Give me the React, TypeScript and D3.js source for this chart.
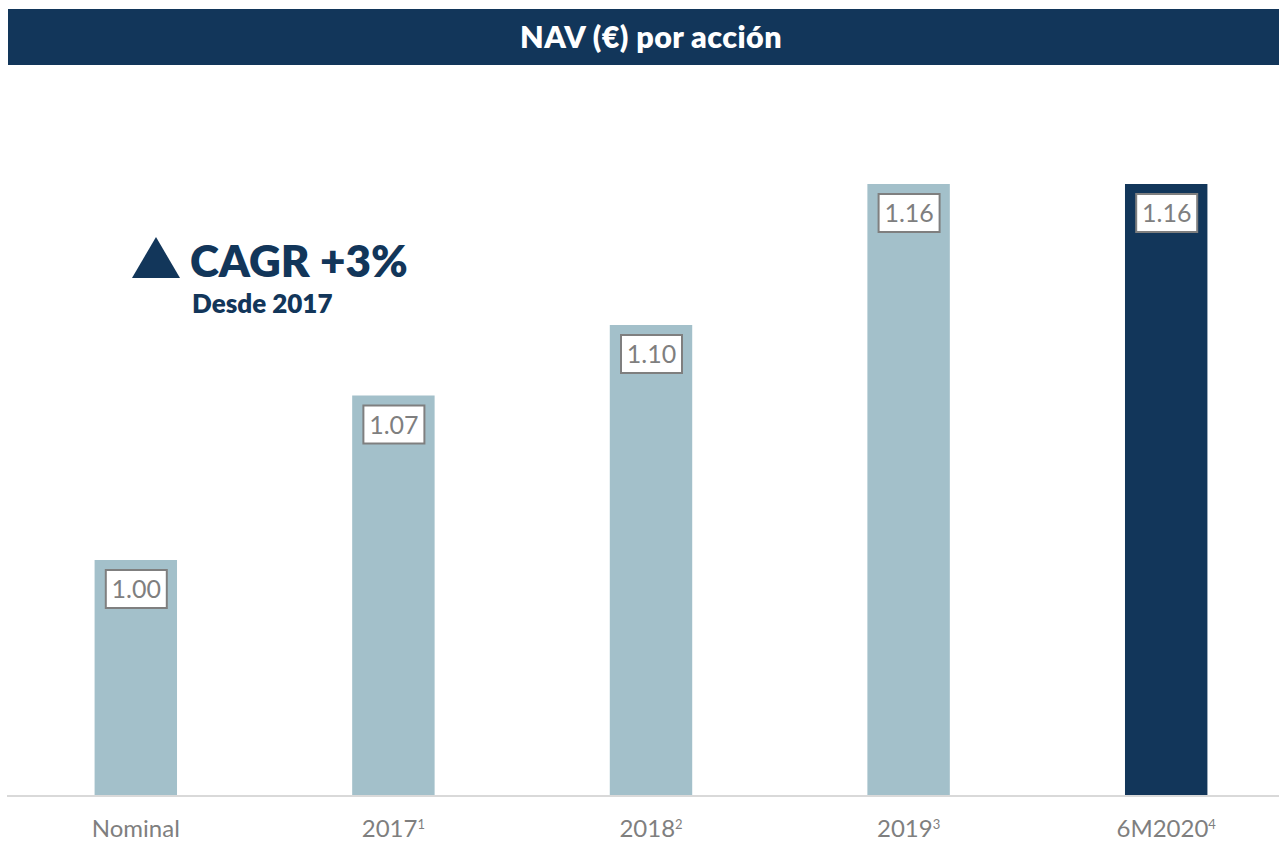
import React from "react";
import * as d3 from "d3";

const categories = ["Nominal", "2017", "2018", "2019", "6M2020"];
const superscripts = ["", "1", "2", "3", "4"];
const values = [1.0, 1.07, 1.1, 1.16, 1.16];
const labels = ["1.00", "1.07", "1.10", "1.16", "1.16"];
const highlight = [false, false, false, false, true];

const NAVY = "#12365a";
const LIGHT = "#a3c0ca";
const GREY = "#7f7f7f";
const FONT = "Lato, 'Open Sans', sans-serif";

export default function App() {
  const W = 1279, H = 841;
  const x = d3.scaleBand<string>().domain(categories).range([7, 1295]).paddingInner(0.68).paddingOuter(0.34);
  const y = d3.scaleLinear().domain([0.9, 1.2]).range([795, 90]);
  const base = y(0.9);
  return (
    <svg width={W} height={H} style={{ position: "absolute", left: 0, top: 0 }}>
      <rect x={0} y={0} width={W} height={H} fill="#fff" />
      <rect x={8} y={9} width={1271} height={56} fill={NAVY} />
      <text x={651} y={48} fill="#fff" fontFamily={FONT} fontWeight={800} fontSize={30.5} textAnchor="middle" letterSpacing={0.4}>
        NAV (€) por acción
      </text>
      {categories.map((c, i) => {
        const bx = x(c)!;
        const bw = x.bandwidth();
        const top = y(values[i]);
        const cx = bx + bw / 2;
        return (
          <g key={c}>
            <rect x={bx} y={top} width={bw} height={base - top} fill={highlight[i] ? NAVY : LIGHT} />
            <rect x={cx - 30} y={top + 10} width={61} height={38} fill="#fff" stroke={GREY} strokeWidth={2} />
            <text x={cx + 0.5} y={top + 38} fill={GREY} fontFamily={FONT} fontWeight={400} fontSize={25} textAnchor="middle">
              {labels[i]}
            </text>
            <text x={cx} y={837} fill={GREY} fontFamily={FONT} fontWeight={400} fontSize={24} textAnchor="middle">
              {c}
              {superscripts[i] && (
                <tspan fontSize={13} dy={-8}>{superscripts[i]}</tspan>
              )}
            </text>
          </g>
        );
      })}
      <line x1={7} x2={1279} y1={base + 1} y2={base + 1} stroke="#d9d9d9" strokeWidth={2} />
      <path d="M132,278 L156,237 L180,278 Z" fill={NAVY} />
      <text x={190} y={277} fill={NAVY} fontFamily={FONT} fontWeight={800} fontSize={44}>CAGR +3%</text>
      <text x={192} y={313} fill={NAVY} fontFamily={FONT} fontWeight={800} fontSize={26}>Desde 2017</text>
    </svg>
  );
}
